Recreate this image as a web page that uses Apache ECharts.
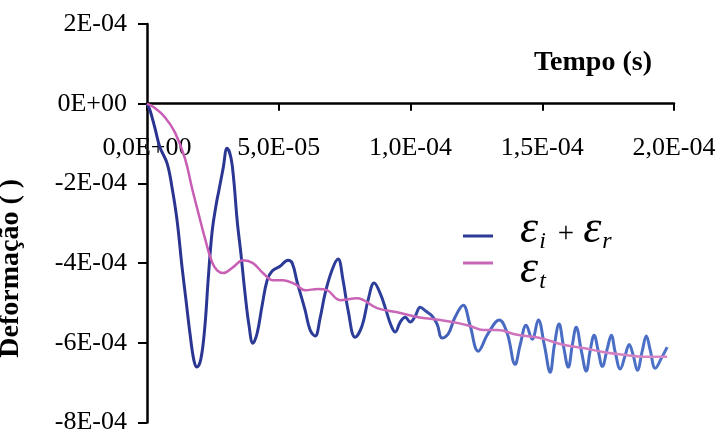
<!DOCTYPE html>
<html>
<head>
<meta charset="utf-8">
<script src="https://cdn.jsdelivr.net/npm/echarts@6/dist/echarts.min.js"></script>
<style>
  html, body { margin: 0; padding: 0; background: #ffffff; }
  #chart { width: 720px; height: 432px; }
</style>
</head>
<body>
<div id="chart"></div>
<script>
// Time in microseconds, strain in microstrain (1e-6)
const timeIR = [0, 1.1, 3.0, 4.9, 7.6, 9.5, 11.4, 13.3, 14.8, 16.3, 17.8, 19.0, 20.5, 22.0, 23.2, 24.7, 26.2, 27.3, 28.9, 30.4,
  31.9, 33.0, 34.2, 35.7, 37.2, 38.7, 40.2, 41.8, 43.7, 45.6, 47.5, 50.5, 53.5, 55.1, 57.0, 60.0, 61.9, 63.8, 65.7, 67.6,
  70.2, 72.5, 74.4, 76.3, 79.0, 81.6, 83.9, 86.2, 88.5, 90.7, 92.6, 94.2, 96.1, 98.0, 99.9, 101.8, 103.7, 105.9, 108.2, 110.1,
  112.0, 114.3, 116.9, 120.0, 122.6, 125.7, 129.5, 133.7, 136.7, 139.7, 141.6, 143.9, 146.2, 148.5, 150.8, 153.0, 154.6, 156.4, 158.0, 159.9,
  161.4, 162.9, 164.8, 166.7, 168.2, 169.7, 171.2, 172.8, 174.7, 176.2, 177.7, 179.6, 181.5, 183.0, 184.5, 186.1, 188.0, 189.5, 191.0, 192.9,
  195.2, 197.4];
const strainIR = [0, -16, -61, -109, -149, -210, -292, -410, -493, -576, -644, -661, -639, -556, -443, -322, -255, -217, -162, -112,
  -137, -197, -292, -380, -476, -556, -601, -576, -506, -443, -420, -408, -393, -400, -448, -518, -568, -583, -538, -476,
  -418, -390, -443, -518, -586, -558, -493, -450, -476, -518, -556, -573, -548, -536, -548, -533, -511, -521, -533, -553,
  -588, -578, -536, -506, -556, -621, -576, -543, -576, -654, -606, -556, -591, -543, -606, -674, -606, -553, -606, -661,
  -606, -561, -619, -671, -619, -581, -619, -659, -614, -581, -624, -666, -631, -604, -631, -669, -619, -583, -619, -664,
  -639, -611];

const timeT = [0, 3.0, 6.8, 10.6, 14.4, 17.1, 19.4, 22.0, 24.7, 26.6, 28.9, 32.7, 36.4, 40.2, 44.0, 47.8, 51.6, 56.2, 60.0, 64.9,
  68.3, 73.3, 79.7, 87.3, 96.1, 102.5, 111.3, 117.7, 122.6, 127.6, 132.9, 140.5, 149.2, 158.0, 165.5, 173.1, 180.7, 188.3, 197.4];
const strainT = [0, -11, -34, -72, -137, -212, -272, -338, -398, -418, -425, -410, -393, -400, -425, -443, -443, -453, -468, -465,
  -468, -493, -488, -513, -525, -535, -543, -550, -558, -568, -568, -580, -588, -605, -613, -623, -630, -635, -635];

const xTicks = [0, 50, 100, 150, 200];
const xTickLabels = ['0,0E+00', '5,0E-05', '1,0E-04', '1,5E-04', '2,0E-04'];
const yTicks = [-800, -600, -400, -200, 0, 200];
const yTickLabels = ['-8E-04', '-6E-04', '-4E-04', '-2E-04', '0E+00', '2E-04'];

const seriesNames = ['εi + εr', 'εt'];

const pairs = (xs, ys) => xs.map((x, i) => [x, ys[i]]);
const serif = 'Liberation Serif';

// Plot box; the time axis is lifted from the bottom edge to the zero-strain line
const W = 720, H = 432;
const gridBox = { left: 147, right: 46, top: 24, bottom: 9.5 };
const yMin = yTicks[0], yMax = yTicks[yTicks.length - 1];
const plotH = H - gridBox.top - gridBox.bottom;
const zeroLift = -plotH * (0 - yMin) / (yMax - yMin);

const legendRich = {
  e: { fontFamily: serif, fontStyle: 'italic', fontSize: 46, color: '#000' },
  s: { fontFamily: serif, fontStyle: 'italic', fontSize: 24, color: '#000', padding: [24, 0, 0, 1] },
  p: { fontFamily: serif, fontSize: 29, color: '#000', padding: [8, 9, 0, 12] }
};
const legendText = name => name === seriesNames[0]
  ? '{e|ε}{s|i}{p|+}{e|ε}{s|r}'
  : '{e|ε}{s|t}';

const chart = echarts.init(document.getElementById('chart'), null, { renderer: 'canvas' });
chart.setOption({
  backgroundColor: '#ffffff',
  animation: false,
  title: {
    text: 'Tempo (s)',
    left: 534, top: 49, padding: 0,
    textStyle: { fontFamily: serif, fontWeight: 'bold', fontSize: 28, color: '#000' }
  },
  legend: [
    {
      data: [seriesNames[0]], left: 463, top: 207, padding: 0,
      icon: 'rect', itemWidth: 30, itemHeight: 3, itemGap: 0,
      formatter: legendText, textStyle: { rich: legendRich, padding: [0, 0, 12, 22] }
    },
    {
      data: [seriesNames[1]], left: 463, top: 247, padding: 0,
      icon: 'rect', itemWidth: 30, itemHeight: 3, itemGap: 0,
      formatter: legendText, textStyle: { rich: legendRich, padding: [14, 0, 0, 22] }
    }
  ],
  grid: Object.assign({ outerBoundsMode: 'none', containLabel: false }, gridBox),
  xAxis: {
    type: 'value', min: 0, max: 200, interval: 50,
    position: 'bottom', offset: zeroLift,
    axisLine: { onZero: false, lineStyle: { color: '#000', width: 2.5 } },
    axisTick: { show: true, length: 7, lineStyle: { color: '#000', width: 2 } },
    axisLabel: {
      margin: 31, fontFamily: serif, fontSize: 26, color: '#000',
      formatter: v => xTickLabels[xTicks.indexOf(Math.round(v))] || ''
    },
    splitLine: { show: false }
  },
  yAxis: {
    type: 'value', min: yMin, max: yMax, interval: 200,
    name: 'Deformação ( )', nameLocation: 'middle', nameGap: 122, nameRotate: 90,
    nameTextStyle: { fontFamily: serif, fontWeight: 'bold', fontSize: 28, color: '#000', padding: [0, 90, 0, 0] },
    axisLine: { lineStyle: { color: '#000', width: 2.5 } },
    axisTick: { show: true, length: 9, lineStyle: { color: '#000', width: 2 } },
    axisLabel: {
      margin: 20, fontFamily: serif, fontSize: 26, color: '#000',
      formatter: v => yTickLabels[yTicks.indexOf(Math.round(v))] || ''
    },
    splitLine: { show: false }
  },
  series: [
    {
      name: seriesNames[0], type: 'line', data: pairs(timeIR, strainIR),
      showSymbol: false, smooth: 0.4, z: 2,
      lineStyle: {
        width: 3,
        color: new echarts.graphic.LinearGradient(0, 0, 1, 0, [
          { offset: 0, color: '#2a338f' },
          { offset: 0.5, color: '#2d3f9c' },
          { offset: 0.6, color: '#4868c0' },
          { offset: 1, color: '#4c72c8' }
        ])
      },
      itemStyle: { color: '#2d3a98' }
    },
    {
      name: seriesNames[1], type: 'line', data: pairs(timeT, strainT),
      showSymbol: false, smooth: 0.4, z: 3,
      lineStyle: {
        width: 2.5,
        color: new echarts.graphic.LinearGradient(0, 0, 1, 0, [
          { offset: 0, color: '#c95bb4' },
          { offset: 0.5, color: '#c866b6' },
          { offset: 1, color: '#d889c6' }
        ])
      },
      itemStyle: { color: '#c866b6' }
    }
  ]
});
</script>
</body>
</html>
